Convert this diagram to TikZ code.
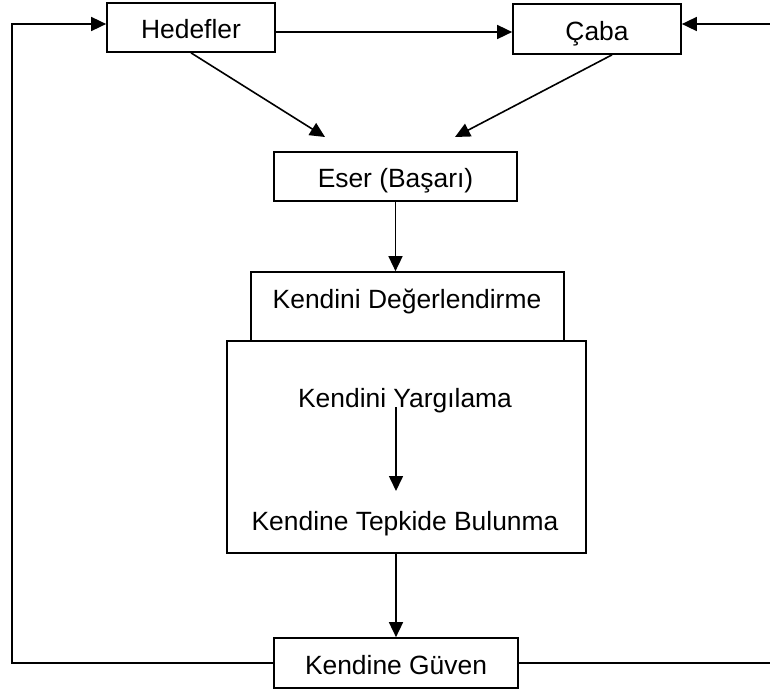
\documentclass[tikz,border=0pt]{standalone}
\usepackage{fontspec}
\setmainfont{Liberation Sans}
\usetikzlibrary{arrows.meta}
\begin{document}
\begin{tikzpicture}[x=1pt, y=-1pt,
  box/.style={draw=black, line width=1.7pt, rectangle, inner sep=0pt, text height=22pt, text depth=0pt, font=\fontsize{26.4}{30}\selectfont},
  txt/.style={inner sep=0pt, anchor=base, font=\fontsize{26.4}{30}\selectfont},
  arr/.style={black, line width=1.6pt, -{Triangle[length=15pt,width=14pt]}}]
% Frame
\clip (0,0) rectangle (770,691);

% Boxes
\node[box, minimum width=168pt, minimum height=49pt] (hedef) at (191,27.5) {Hedefler};
\node[box, minimum width=168pt, minimum height=50pt] (caba) at (597,29) {Çaba};
\node[box, minimum width=243pt, minimum height=49pt] (eser) at (395.5,176.5) {Eser (Başarı)};
\node[box, minimum width=313pt, minimum height=69pt] (deger) at (407.5,306.5) {};
\node[box, minimum width=359pt, minimum height=212pt] (oz) at (406.5,447) {};
\node[box, minimum width=244pt, minimum height=50pt] (guven) at (396,663) {Kendine Güven};

% Texts
\node[txt] (degertxt) at (407,308) {Kendini Değerlendirme};
\node[txt] (yargi) at (405,407) {Kendini Yargılama};
\node[txt] (tepki) at (405,530) {Kendine Tepkide Bulunma};

% Points
\coordinate (eserL) at (325,137);
\coordinate (eserR) at (455,137);
\coordinate (tepkitop) at (396,491);
\coordinate (solkose) at (12,24);
\coordinate (sagkose) at (776,24);

% Arrows
\draw[arr] ([yshift=-4.5pt]hedef.east) -- ([yshift=-3pt]caba.west);
\draw[arr] (hedef.south) -- (eserL);
\draw[arr] ([xshift=15pt]caba.south) -- (eserR);
\draw[arr] (eser.south) -- (eser.south |- deger.north);
\draw[arr] (yargi.base -| tepkitop) -- (tepkitop);
\draw[arr] (guven.north |- oz.south) -- (guven.north);

% Feedback
\draw[arr] (guven.west) -| (solkose) -- ([yshift=3.5pt]hedef.west);
\draw[arr] (guven.east) -| (sagkose) -- ([yshift=5pt]caba.east);
\end{tikzpicture}
\end{document}
